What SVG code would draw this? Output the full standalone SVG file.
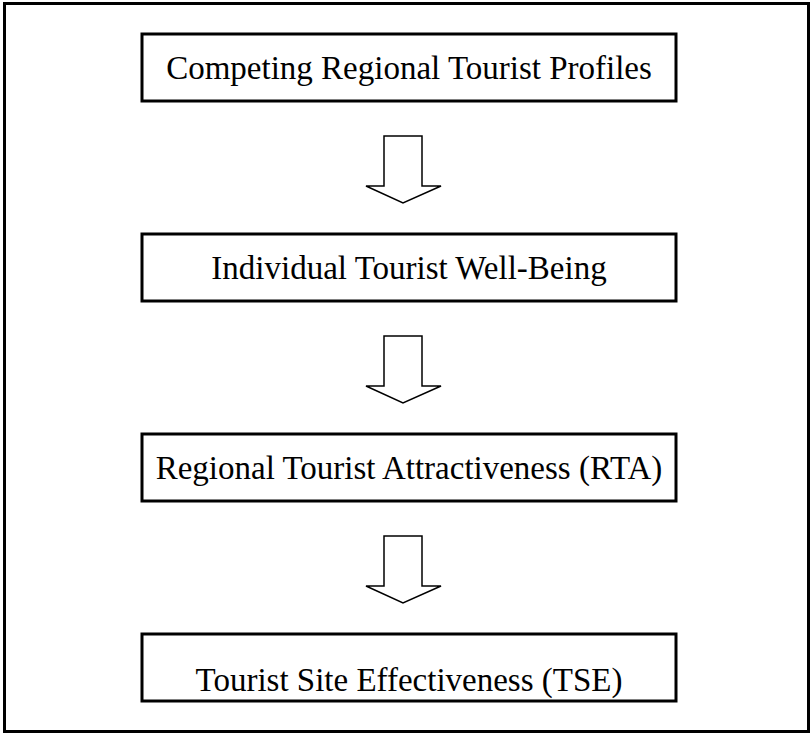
<svg xmlns="http://www.w3.org/2000/svg" width="811" height="734" viewBox="0 0 811 734">
<style>
.frame{fill:none;stroke:#000;stroke-width:3}
.box{fill:#fff;stroke:#000;stroke-width:3}
.lbl{font-family:"Liberation Serif","Times New Roman",serif;font-size:33px;fill:#000;text-anchor:middle}
.arr{fill:#fff;stroke:#000;stroke-width:1.5;stroke-linejoin:miter}
</style>
<rect class="frame" x="4.5" y="3.5" width="804" height="728"/>
<g id="node1"><rect class="box" x="142" y="34" width="534" height="67"/><text class="lbl" x="409" y="79">Competing Regional Tourist Profiles</text></g>
<g id="node2"><rect class="box" x="142" y="234" width="534" height="67"/><text class="lbl" x="409" y="279">Individual Tourist Well-Being</text></g>
<g id="node3"><rect class="box" x="142" y="434" width="534" height="67"/><text class="lbl" x="409" y="479">Regional Tourist Attractiveness (RTA)</text></g>
<g id="node4"><rect class="box" x="142" y="634" width="534" height="67"/><text class="lbl" x="409" y="691">Tourist Site Effectiveness (TSE)</text></g>
<g id="connectors">
<path class="arr" d="M384,136 H422 V186 H441 L403,203 L366,186 H384 Z"/>
<path class="arr" d="M384,336 H422 V386 H441 L403,403 L366,386 H384 Z"/>
<path class="arr" d="M384,536 H422 V586 H441 L403,603 L366,586 H384 Z"/>
</g>
</svg>
